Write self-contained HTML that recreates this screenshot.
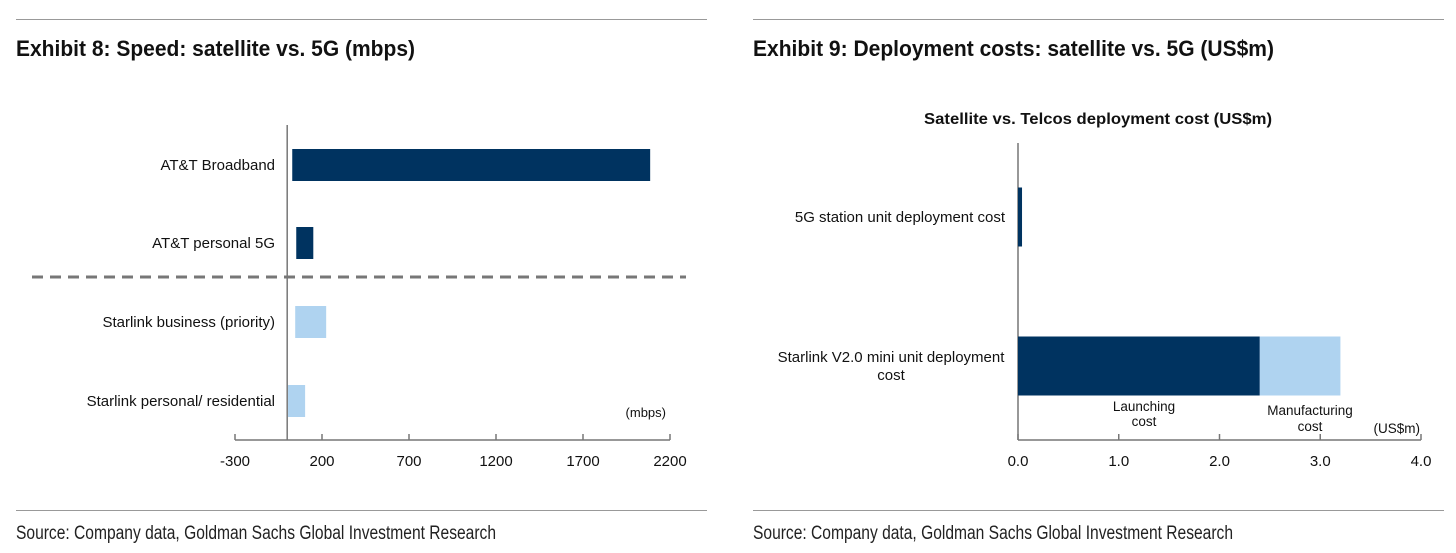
<!DOCTYPE html>
<html><head><meta charset="utf-8"><style>
body{margin:0;background:#fff;width:1456px;height:548px;overflow:hidden;font-family:"Liberation Sans",sans-serif;}
svg text{font-family:"Liberation Sans",sans-serif;}
</style></head><body>
<svg id="s" width="1456" height="548" xmlns="http://www.w3.org/2000/svg">
<line x1="16" y1="19.5" x2="707" y2="19.5" stroke="#999"/>
<line x1="753" y1="19.5" x2="1444" y2="19.5" stroke="#999"/>
<text x="16" y="56" font-size="22" font-weight="bold" fill="#111" textLength="399" lengthAdjust="spacingAndGlyphs">Exhibit 8: Speed: satellite vs. 5G (mbps)</text>
<text x="753" y="56" font-size="22" font-weight="bold" fill="#111" textLength="521" lengthAdjust="spacingAndGlyphs">Exhibit 9: Deployment costs: satellite vs. 5G (US$m)</text>
<line x1="16" y1="510.5" x2="707" y2="510.5" stroke="#999"/>
<line x1="753" y1="510.5" x2="1444" y2="510.5" stroke="#999"/>
<text x="16" y="539" font-size="19" fill="#222" textLength="480" lengthAdjust="spacingAndGlyphs">Source: Company data, Goldman Sachs Global Investment Research</text>
<text x="753" y="539" font-size="19" fill="#222" textLength="480" lengthAdjust="spacingAndGlyphs">Source: Company data, Goldman Sachs Global Investment Research</text>
<text x="1098" y="124" font-size="16" font-weight="bold" text-anchor="middle" fill="#111" textLength="348" lengthAdjust="spacingAndGlyphs">Satellite vs. Telcos deployment cost (US$m)</text>
<g id="c1"></g><g id="c2"></g>
</svg>
<script>
const speedCats=["AT&T Broadband","AT&T personal 5G","Starlink business (priority)","Starlink personal/ residential"];
const speedStart=[29,52,46,5];
const speedEnd=[2086,150,224,103];
const speedTicks=[-300,200,700,1200,1700,2200];
const costCats=["5G station unit deployment cost","Starlink V2.0 mini unit deployment cost"];
const launchCost=[0.04,2.4];
const manufCost=[0,0.8];
const costTicks=[0,1,2,3,4];
const NS="http://www.w3.org/2000/svg";
function mk(p,t,a,txt){const e=document.createElementNS(NS,t);for(const k in a)e.setAttribute(k,a[k]);if(txt!==undefined)e.textContent=txt;p.appendChild(e);return e;}
// chart 1
const g1=document.getElementById('c1');
const x1=v=>235+(v+300)*(435/2500);
const yc1=[165,243,322,401];
const cols1=["#003360","#003360","#afd3f0","#afd3f0"];
mk(g1,'line',{x1:x1(0),y1:125,x2:x1(0),y2:440,stroke:'#777','stroke-width':1.5,});
speedCats.forEach((c,i)=>{
 let r=mk(g1,'rect',{x:x1(speedStart[i]),y:yc1[i]-16,width:x1(speedEnd[i])-x1(speedStart[i]),height:32,fill:cols1[i]});
 
 
 let t=mk(g1,'text',{x:275,y:yc1[i]+5,'font-size':15,'text-anchor':'end',fill:'#111'},c);
 
 
});
mk(g1,'line',{x1:32,y1:277,x2:686,y2:277,stroke:'#777','stroke-width':3,'stroke-dasharray':'11,7',});
mk(g1,'line',{x1:x1(-300),y1:440,x2:x1(2200),y2:440,stroke:'#777','stroke-width':1.5,});
speedTicks.forEach(v=>{
 let l=mk(g1,'line',{x1:x1(v),y1:434,x2:x1(v),y2:440,stroke:'#777','stroke-width':1.5});
 
 
 let t=mk(g1,'text',{x:x1(v),y:466,'font-size':15,'text-anchor':'middle',fill:'#111'},String(v));
 
 
});
mk(g1,'text',{x:666,y:417,'font-size':13,'text-anchor':'end',fill:'#111',},'(mbps)');
// chart 2
const g2=document.getElementById('c2');
const x2=v=>1018+v*(403/4);
const yc2=[217,366];
mk(g2,'line',{x1:1018,y1:143,x2:1018,y2:440,stroke:'#777','stroke-width':1.5,});
costCats.forEach((c,i)=>{
 let r=mk(g2,'rect',{x:x2(0),y:yc2[i]-29.5,width:x2(launchCost[i])-x2(0),height:59,fill:'#003360'});
 
 
 let r2=mk(g2,'rect',{x:x2(launchCost[i]),y:yc2[i]-29.5,width:x2(launchCost[i]+manufCost[i])-x2(launchCost[i]),height:59,fill:'#afd3f0'});
 
 
});
mk(g2,'text',{x:1005,y:222,'font-size':15,'text-anchor':'end',fill:'#111',},costCats[0]);
const tl=mk(g2,'text',{'font-size':15,'text-anchor':'middle',fill:'#111',});
mk(tl,'tspan',{x:891,y:362},'Starlink V2.0 mini unit deployment');
mk(tl,'tspan',{x:891,y:380},'cost');
const ll=mk(g2,'text',{'font-size':13.5,'text-anchor':'middle',fill:'#111',});
mk(ll,'tspan',{x:1144,y:411},'Launching');
mk(ll,'tspan',{x:1144,y:426},'cost');
const ml=mk(g2,'text',{'font-size':13.5,'text-anchor':'middle',fill:'#111',});
mk(ml,'tspan',{x:1310,y:415},'Manufacturing');
mk(ml,'tspan',{x:1310,y:431},'cost');
mk(g2,'text',{x:1420,y:433,'font-size':13.5,'text-anchor':'end',fill:'#111',},'(US$m)');
mk(g2,'line',{x1:x2(0),y1:440,x2:x2(4),y2:440,stroke:'#777','stroke-width':1.5,});
costTicks.forEach(v=>{
 let l=mk(g2,'line',{x1:x2(v),y1:434,x2:x2(v),y2:440,stroke:'#777','stroke-width':1.5});
 
 
 let t=mk(g2,'text',{x:x2(v),y:466,'font-size':15,'text-anchor':'middle',fill:'#111'},v.toFixed(1));
 
 
});
</script>
</body></html>
